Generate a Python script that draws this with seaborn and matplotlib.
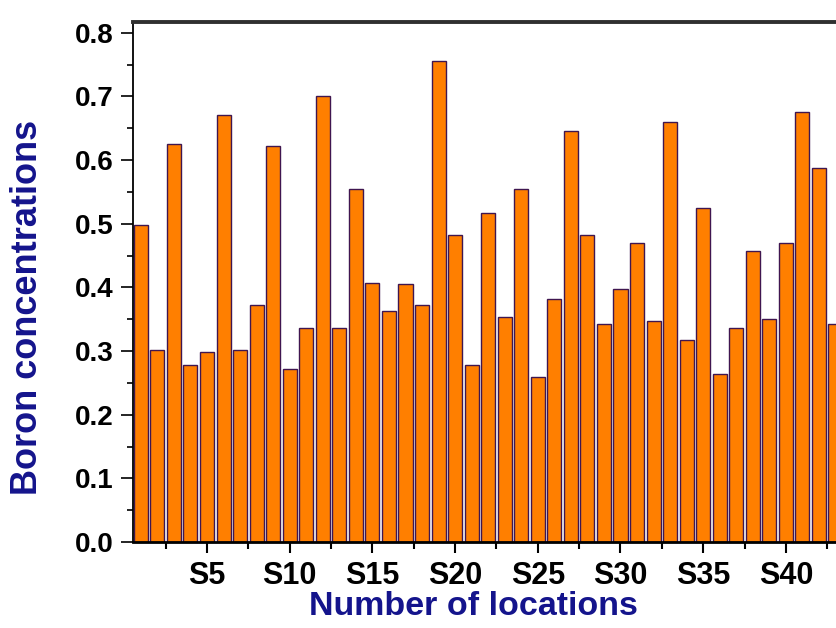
import numpy as np
import pandas as pd
import matplotlib
matplotlib.use('Agg')
import matplotlib.pyplot as plt
import seaborn as sns
from matplotlib.ticker import MultipleLocator

# Значения по точкам отбора S1..S43
locations = ['S%d' % i for i in range(1, 44)]
boron = [0.498, 0.302, 0.625, 0.278, 0.298, 0.671, 0.302, 0.373, 0.622, 0.272,
         0.337, 0.700, 0.337, 0.555, 0.407, 0.363, 0.406, 0.373, 0.756, 0.482,
         0.278, 0.517, 0.353, 0.555, 0.259, 0.382, 0.646, 0.482, 0.343, 0.398,
         0.469, 0.348, 0.660, 0.318, 0.524, 0.264, 0.337, 0.457, 0.351, 0.469,
         0.675, 0.587, 0.343]
tick_names = ['S5', 'S10', 'S15', 'S20', 'S25', 'S30', 'S35', 'S40']

df = pd.DataFrame({'location': locations, 'boron': boron})

sns.set_style('white')
plt.rcParams['font.family'] = ['Liberation Sans', 'DejaVu Sans']
plt.rcParams['font.weight'] = 'bold'

fig = plt.figure(figsize=(8.37, 6.28), dpi=100)
ax = fig.add_axes([133 / 837, 86 / 628, 704 / 837, 520 / 628])

sns.barplot(data=df, x='location', y='boron', color='#ff7f00', saturation=1,
            edgecolor='#3f1650', linewidth=1.0, width=0.85, ax=ax)

ax.set_xlim(-0.474, 42.09)
ax.set_ylim(0, 0.817)

# Тики по оси X
major_pos = [locations.index(t) for t in tick_names]
ax.set_xticks(major_pos)
ax.set_xticklabels(tick_names)
ax.set_xticks(np.arange(1.5, 42, 5), minor=True)

ax.yaxis.set_major_locator(MultipleLocator(0.1))
ax.yaxis.set_minor_locator(MultipleLocator(0.05))
ax.set_yticklabels(['%.1f' % v for v in ax.get_yticks()])

ax.tick_params(axis='y', which='major', direction='out', length=9, width=1.2,
               labelsize=20, pad=5, left=True, colors='black')
ax.tick_params(axis='y', which='minor', direction='out', length=4, width=1.2,
               left=True, colors='black')
ax.tick_params(axis='x', which='major', direction='out', length=8, width=1.5,
               labelsize=22, pad=6, bottom=True, colors='black')
ax.tick_params(axis='x', which='minor', direction='out', length=5, width=1.5,
               bottom=True, colors='black')

for lab in ax.get_xticklabels() + ax.get_yticklabels():
    lab.set_fontweight('bold')

ax.spines['right'].set_visible(False)
ax.spines['top'].set_linewidth(2.8)
ax.spines['top'].set_color('#303030')
ax.spines['left'].set_linewidth(1.3)
ax.spines['left'].set_color('black')
ax.spines['bottom'].set_linewidth(2)
ax.spines['bottom'].set_color('black')

ax.set_xlabel('Number of locations', fontsize=24.5, fontweight='bold', color='#14148c')
ax.set_ylabel('Boron concentrations', fontsize=26, fontweight='bold', color='#14148c')
ax.xaxis.set_label_coords(0.484, -0.094)
ax.yaxis.set_label_coords(-0.125, 0.452)

fig.savefig('out.png', dpi=100)
